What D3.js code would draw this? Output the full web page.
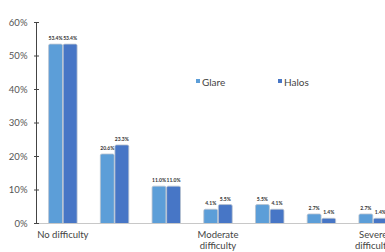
<!DOCTYPE html>
<html>
<head>
<meta charset="utf-8">
<script src="https://cdn.jsdelivr.net/npm/d3@7"></script>
<style>
  body { margin: 0; background: #fff; overflow: hidden; }
  text { font-family: Lato, "Open Sans", sans-serif; }
</style>
</head>
<body>
<script>
const categories = ["No difficulty", "", "", "Moderate difficulty", "", "", "Severe difficulty"]
const glare = [53.4, 20.6, 11.0, 4.1, 5.5, 2.7, 2.7]
const halos = [53.4, 23.3, 11.0, 5.5, 4.1, 1.4, 1.4]
const series = ["Glare", "Halos"]
const yTicks = [0, 10, 20, 30, 40, 50, 60]

const width = 385, height = 252
const colors = {Glare: "#5c9ed8", Halos: "#4776c6"}

const svg = d3.select("body").append("svg")
  .attr("width", width)
  .attr("height", height)

const x = d3.scaleBand()
  .domain(d3.range(categories.length))
  .range([37, 399])
  .paddingInner(0.45)
  .paddingOuter(0.225)

const xs = d3.scaleBand()
  .domain(series)
  .range([0, x.bandwidth()])
  .paddingInner(0.05)

const y = d3.scaleLinear()
  .domain([0, 60])
  .range([223, 22])

// bars
const rows = categories.map((c, i) => ({i, Glare: glare[i], Halos: halos[i]}))

const grp = svg.selectAll("g.grp")
  .data(rows)
  .enter().append("g")
  .attr("class", "grp")
  .attr("transform", d => `translate(${x(d.i)},0)`)

grp.selectAll("rect")
  .data(d => series.map(s => ({s, v: d[s]})))
  .enter().append("rect")
  .attr("x", d => xs(d.s))
  .attr("y", d => y(d.v))
  .attr("width", xs.bandwidth())
  .attr("height", d => y(0) - y(d.v) + 2)
  .attr("rx", 1.5)
  .attr("fill", d => colors[d.s])
  .attr("stroke", "#b9c3cf")
  .attr("stroke-width", 0.8)

grp.selectAll("text.val")
  .data(d => series.map(s => ({s, v: d[s]})))
  .enter().append("text")
  .attr("class", "val")
  .attr("x", d => xs(d.s) + xs.bandwidth() / 2)
  .attr("y", d => y(d.v) - 4)
  .attr("text-anchor", "middle")
  .attr("font-size", 5)
  .attr("font-weight", "bold")
  .attr("fill", "#333")
  .text(d => d.v.toFixed(1) + "%")

// cover the bottom of bars below axis
svg.append("rect")
  .attr("x", 37).attr("y", 223.5)
  .attr("width", width).attr("height", 3)
  .attr("fill", "#fff")

// x axis line
svg.append("line")
  .attr("x1", 36).attr("x2", width)
  .attr("y1", 223.5).attr("y2", 223.5)
  .attr("stroke", "#c8c8c8")
  .attr("stroke-width", 1)

// y axis
const yaxis = d3.axisLeft(y)
  .tickValues(yTicks)
  .tickFormat(d => d + "%")
  .tickSize(5)
  .tickPadding(4)

const ya = svg.append("g")
  .attr("class", "axis y")
  .attr("transform", "translate(36.5,0)")
  .call(yaxis)

ya.selectAll("line").attr("stroke", "#444").attr("transform", "translate(2.5,0)")
ya.select(".domain").attr("stroke", "#444").attr("d", `M0,${y(60)}V${y(0)}`)
ya.selectAll("text")
  .attr("font-size", 9.5)
  .attr("fill", "#555")
  .attr("font-family", "Lato, sans-serif")

// category labels
svg.selectAll("text.cat")
  .data(categories.map((c, i) => ({c, i})).filter(d => d.c))
  .enter().append("text")
  .attr("class", "cat")
  .attr("text-anchor", "middle")
  .attr("font-size", 9.5)
  .attr("fill", "#444")
  .each(function (d) {
    const t = d3.select(this)
    const cx = x(d.i) + x.bandwidth() / 2
    const words = d.i === 0 ? [d.c] : d.c.split(" ")
    words.forEach((w, k) => {
      t.append("tspan")
        .attr("x", cx)
        .attr("y", 238 + k * 11)
        .text(w)
    })
  })

// legend
const legendX = [196, 278]
const lg = svg.selectAll("g.leg")
  .data(series)
  .enter().append("g")
  .attr("class", "leg")
  .attr("transform", (d, i) => `translate(${legendX[i]},82)`)

lg.append("rect")
  .attr("x", 0).attr("y", -3)
  .attr("width", 4).attr("height", 4)
  .attr("fill", d => colors[d])

lg.append("text")
  .attr("x", 6).attr("y", 3.5)
  .attr("font-size", 10)
  .attr("fill", "#444")
  .text(d => d)
</script>
</body>
</html>
